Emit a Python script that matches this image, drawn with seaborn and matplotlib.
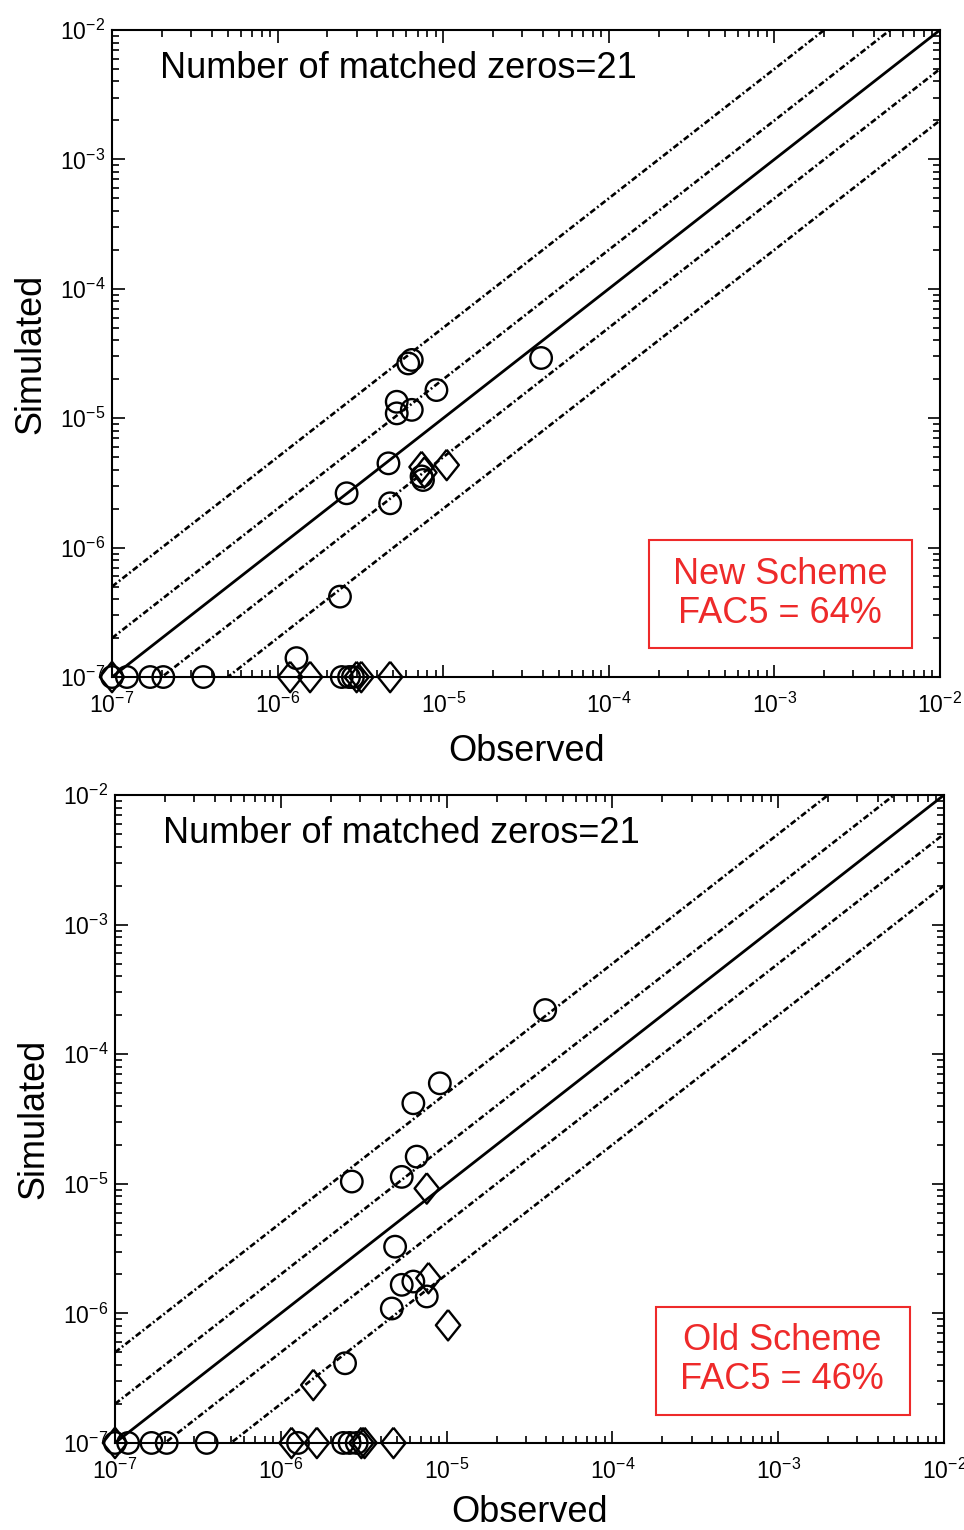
import numpy as np
import pandas as pd
import matplotlib
matplotlib.use("Agg")
import matplotlib.pyplot as plt
import seaborn as sns
from matplotlib.patches import Rectangle
from matplotlib.ticker import LogLocator

# ------------- data -------------
# New scheme (top panel)
new_circle_obs = [1.0e-7, 1.23e-7, 1.7e-7, 2.04e-7, 3.56e-7, 2.44e-6, 2.7e-6, 2.85e-6,
                  1.3e-6, 5.24e-6, 5.24e-6, 6.46e-6, 9.1e-6, 6.15e-6, 6.46e-6, 3.9e-5,
                  4.67e-6, 2.61e-6, 4.78e-6, 2.38e-6, 7.55e-6, 7.4e-6]
new_circle_sim = [1.0e-7, 1.0e-7, 1.0e-7, 1.0e-7, 1.0e-7, 1.0e-7, 1.0e-7, 1.0e-7,
                  1.4e-7, 1.34e-5, 1.09e-5, 1.16e-5, 1.65e-5, 2.65e-5, 2.82e-5, 2.92e-5,
                  4.48e-6, 2.63e-6, 2.2e-6, 4.18e-7, 3.33e-6, 3.55e-6]
new_diamond_obs = [1.0e-7, 1.19e-6, 1.57e-6, 3.0e-6, 3.2e-6, 4.78e-6, 7.4e-6, 1.05e-5, 7.7e-6]
new_diamond_sim = [1.0e-7, 1.0e-7, 1.0e-7, 1.0e-7, 1.0e-7, 1.0e-7, 4.2e-6, 4.35e-6, 3.8e-6]

# Old scheme (bottom panel)
old_circle_obs = [1.0e-7, 1.2e-7, 1.66e-7, 2.05e-7, 3.57e-7, 1.27e-6, 2.38e-6, 2.6e-6, 2.87e-6,
                  9.1e-6, 6.3e-6, 6.6e-6, 5.36e-6, 2.68e-6, 3.93e-5, 4.89e-6, 5.36e-6,
                  6.3e-6, 7.59e-6, 4.67e-6, 2.44e-6]
old_circle_sim = [1.0e-7, 1.0e-7, 1.0e-7, 1.0e-7, 1.0e-7, 1.0e-7, 1.0e-7, 1.0e-7, 1.0e-7,
                  5.96e-5, 4.18e-5, 1.62e-5, 1.13e-5, 1.04e-5, 2.19e-4, 3.27e-6, 1.66e-6,
                  1.76e-6, 1.35e-6, 1.09e-6, 4.12e-7]
old_diamond_obs = [1.0e-7, 1.16e-6, 1.65e-6, 3.06e-6, 3.2e-6, 4.78e-6, 7.59e-6, 7.77e-6, 1.02e-5, 1.57e-6]
old_diamond_sim = [1.0e-7, 1.0e-7, 1.0e-7, 1.0e-7, 1.0e-7, 1.0e-7, 9.2e-6, 1.87e-6, 8.1e-7, 2.8e-7]

# reference lines y = f*x
factors = [5, 2, 1, 0.5, 0.2]
axis_range = np.array([1e-7, 1e-2])

zeros_text = "Number of matched zeros=21"
schemes = ["New Scheme\nFAC5 = 64%", "Old Scheme\nFAC5 = 46%"]

RED = "#EE2A2A"
DIAMOND = [(0, 1), (0.8, 0), (0, -1), (-0.8, 0), (0, 1)]

sns.set_theme(style="white")
plt.rcParams["font.family"] = ["Liberation Sans", "DejaVu Sans"]
plt.rcParams["mathtext.default"] = "regular"
plt.rcParams["axes.unicode_minus"] = False
plt.rcParams["text.color"] = "black"
plt.rcParams["axes.labelcolor"] = "black"
plt.rcParams["xtick.color"] = "black"
plt.rcParams["ytick.color"] = "black"

fig = plt.figure(figsize=(9.64, 15.30), dpi=100)
ax_top = fig.add_axes([0.1162, 0.5575, 0.8589, 0.4229])
ax_bot = fig.add_axes([0.1193, 0.0569, 0.8600, 0.4235])

panels = [
    (ax_top, new_circle_obs, new_circle_sim, new_diamond_obs, new_diamond_sim, schemes[0],
     (0.6486, 0.0448, 0.3176, 0.1669), (0.8068, 0.128), 12),
    (ax_bot, old_circle_obs, old_circle_sim, old_diamond_obs, old_diamond_sim, schemes[1],
     (0.6526, 0.0432, 0.3064, 0.1667), (0.8046, 0.128), 8),
]

for ax, c_obs, c_sim, d_obs, d_sim, label, box, txt_pos, xpad in panels:
    ax.set_xscale("log")
    ax.set_yscale("log")

    # 1:1, factor 2 and factor 5 lines
    for f in factors:
        if f == 1:
            sns.lineplot(x=axis_range, y=axis_range * f, ax=ax, color="black",
                         linewidth=2.0, linestyle="-")
        else:
            sns.lineplot(x=axis_range, y=axis_range * f, ax=ax, color="black",
                         linewidth=1.9, linestyle=(0, (2.3, 1.0, 0.7, 1.0)))

    circles = pd.DataFrame({"observed": c_obs, "simulated": c_sim})
    diamonds = pd.DataFrame({"observed": d_obs, "simulated": d_sim})
    sns.scatterplot(data=circles, x="observed", y="simulated", ax=ax, marker="o",
                    s=240, facecolors="none", edgecolor="black", linewidth=1.7,
                    clip_on=False, zorder=5)
    sns.scatterplot(data=diamonds, x="observed", y="simulated", ax=ax, marker=DIAMOND,
                    s=480, facecolors="none", edgecolor="black", linewidth=1.7,
                    clip_on=False, zorder=5)

    ax.set_xlim(1e-7, 1e-2)
    ax.set_ylim(1e-7, 1e-2)
    ax.xaxis.set_major_locator(LogLocator(base=10, numticks=10))
    ax.yaxis.set_major_locator(LogLocator(base=10, numticks=10))
    ax.xaxis.set_minor_locator(LogLocator(base=10, subs=np.arange(2, 10), numticks=20))
    ax.yaxis.set_minor_locator(LogLocator(base=10, subs=np.arange(2, 10), numticks=20))
    ax.tick_params(which="both", direction="in", top=True, right=True,
                   bottom=True, left=True, color="black", width=1.2)
    ax.tick_params(which="major", length=9, labelsize=16.5)
    ax.tick_params(axis="x", which="major", pad=11)
    ax.tick_params(axis="y", which="major", pad=5)
    ax.tick_params(which="minor", length=5)
    for sp in ax.spines.values():
        sp.set_color("black")
        sp.set_linewidth(1.5)

    ax.set_xlabel("Observed", fontsize=26, labelpad=xpad)
    ax.set_ylabel("Simulated", fontsize=26, labelpad=8)

    ax.text(0.058, 0.941, zeros_text, transform=ax.transAxes, fontsize=26,
            ha="left", va="center")
    ax.add_patch(Rectangle(box[:2], box[2], box[3], transform=ax.transAxes,
                           fill=False, edgecolor=RED, linewidth=1.5, zorder=6))
    ax.text(txt_pos[0], txt_pos[1], label, transform=ax.transAxes, fontsize=26,
            color=RED, ha="center", va="center", linespacing=1.15, zorder=7)

fig.savefig("out.png", dpi=100)
